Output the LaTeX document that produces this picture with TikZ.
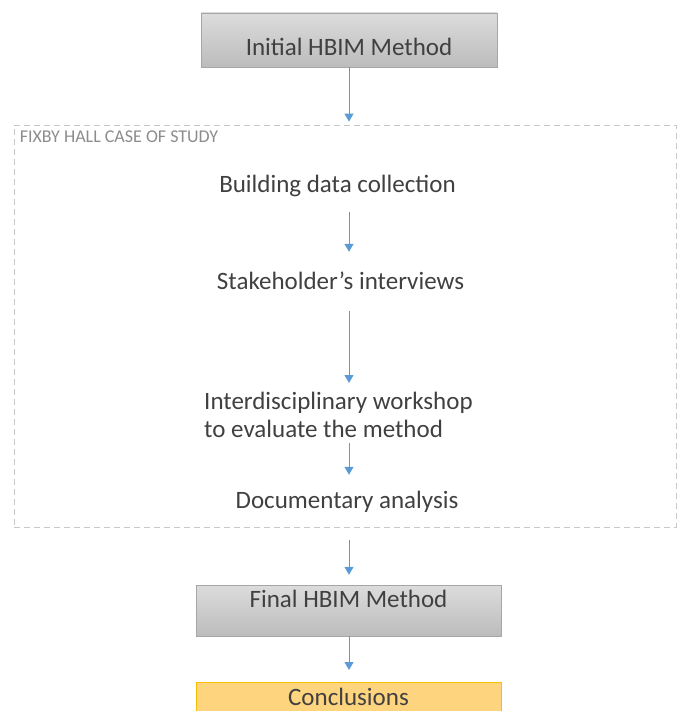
\documentclass[tikz,border=0pt]{standalone}
\usepackage{fontspec}
\setmainfont{Carlito}
\usetikzlibrary{arrows.meta,positioning}
\definecolor{TxtGray}{HTML}{404040}
\definecolor{LblGray}{HTML}{8C8C8C}
\definecolor{FrameGray}{HTML}{C8C8C8}
\definecolor{BoxTop}{HTML}{DCDCDC}
\definecolor{BoxBot}{HTML}{BCBCBC}
\definecolor{BoxLine}{HTML}{A6A6A6}
\definecolor{Flow}{HTML}{5B9BD5}
\definecolor{ConclFill}{HTML}{FFD47F}
\definecolor{ConclLine}{HTML}{F5C000}

\begin{document}
\begin{tikzpicture}[x=1pt,y=1pt,font=\fontsize{25}{28}\selectfont,>={Triangle[length=8pt,width=9pt]}]
  \tikzstyle{methodbox}=[draw=BoxLine,top color=BoxTop,bottom color=BoxBot,minimum width=296pt,inner sep=0pt,text=TxtGray]
  \tikzstyle{stage}=[inner sep=0pt,text=TxtGray,text height=20pt,text depth=3pt]
  \tikzstyle{flow}=[->,draw=Flow,line width=1pt]
  \useasboundingbox (0,0) rectangle (677,-711);
  % outer chain
  \node[methodbox,minimum height=54pt,text height=32pt,text depth=0pt] (init) at (349,-40) {Initial HBIM Method};
  \node[draw=FrameGray,dash pattern=on 6pt off 4pt,line width=0.8pt,minimum width=662pt,minimum height=402pt,inner sep=0pt] (study) at (345,-326) {};
  \node[anchor=base west,inner sep=0pt,font=\fontsize{18}{20}\selectfont,text=LblGray] (studylbl) at ([xshift=6pt,yshift=-18pt]study.north west) {FIXBY HALL CASE OF STUDY};
  % case study steps
  \node[stage] (collect) at (337.5,-184) {Building data collection};
  \node[stage] (interview) at (340.5,-281) {Stakeholder’s interviews};
  \node[inner sep=0pt,text=TxtGray,align=left,anchor=north west] (workshop) at (204,-392) {Interdisciplinary workshop\\to evaluate the method};
  \node[stage] (docs) at (347,-500) {Documentary analysis};
  \node[methodbox,minimum width=305pt,minimum height=51pt,text height=12pt,text depth=18pt] (final) at (348.5,-610.5) {Final HBIM Method};
  \node[methodbox,draw=ConclLine,top color=ConclFill,bottom color=ConclFill,minimum width=305pt,text height=23pt,text depth=20pt,anchor=north] (concl) at (348.5,-682) {Conclusions};
  % arrows
  \draw[flow,shorten >=3pt] (init.south) -- (init.south |- study.north);
  \draw[flow,shorten <=16.5pt,shorten >=17.5pt] (collect.south -| init) -- (interview.north -| init);
  \draw[flow,shorten <=18.5pt,shorten >=9pt] (interview.south -| init) -- (workshop.north -| init);
  \draw[flow,shorten <=5pt,shorten >=13.5pt] (workshop.south -| init) -- (docs.north -| init);
  \draw[flow,shorten <=13pt,shorten >=10pt] (study.south -| init) -- (final.north -| init);
  \draw[flow,shorten >=12pt] (final.south -| init) -- (concl.north -| init);
\end{tikzpicture}
\end{document}
